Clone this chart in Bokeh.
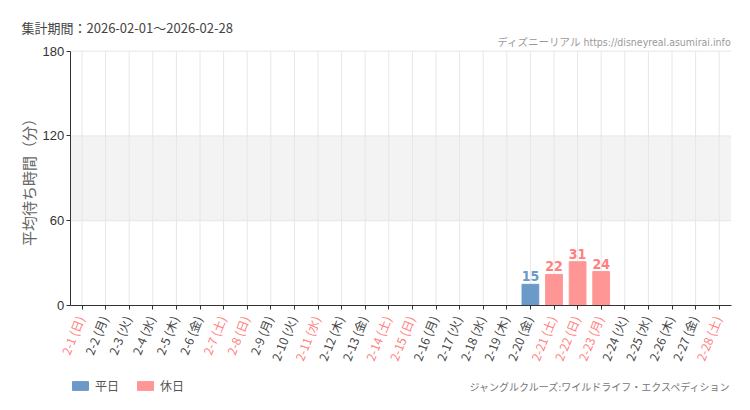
import math
from bokeh.plotting import figure
from bokeh.models import (ColumnDataSource, LabelSet, Label, BoxAnnotation, Legend, LegendItem,
                          FixedTicker, Range1d, LinearAxis)
from bokeh.core.properties import value
from bokeh.embed import file_html
from bokeh.resources import INLINE

# ---------------- data ----------------
dates = ["2-%d" % d for d in range(1, 29)]
weekdays = ["日", "月", "火", "水", "木", "金", "土"] * 4
holiday_dates = ["2-1", "2-7", "2-8", "2-11", "2-14", "2-15", "2-21", "2-22", "2-23", "2-28"]

bar_dates = ["2-20", "2-21", "2-22", "2-23"]
bar_values = [15, 22, 31, 24]

y_ticks = [0, 60, 120, 180]
band = (60, 120)

header = "集計期間：2026-02-01～2026-02-28"
credit = "ディズニーリアル https://disneyreal.asumirai.info"
attraction = "ジャングルクルーズ:ワイルドライフ・エクスペディション"
y_title = "平均待ち時間（分）"
legend_labels = ["平日", "休日"]

# ---------------- style ----------------
BLUE = "#6b9ac8"
PINK = "#ff9696"
PINK_TXT = "#ff8080"
DARK = "#333333"
GRID = "#e6e6e6"
JP = "Noto Sans CJK JP"
COND = "DejaVu Sans Condensed"

W, H = 750, 410
# plot-area geometry (pixels, from top-left of canvas)
PX_LEFT0 = 81.5       # centre of first category
PX_STEP = 23.6        # category spacing
PY_ZERO = 305.0       # y=0
PY_TOP = 50.7         # y=180

positions = list(range(1, len(dates) + 1))
pos_of = dict(zip(dates, positions))

ky = (PY_ZERO - PY_TOP) / (y_ticks[-1] - y_ticks[0])
y_start = -(H - PY_ZERO) / ky
y_end = y_start + H / ky
x_start = positions[0] - PX_LEFT0 / PX_STEP
x_end = x_start + W / PX_STEP
x_lo, x_hi = positions[0] - 0.5, positions[-1] + 0.5

p = figure(width=W, height=H, x_range=Range1d(x_start, x_end), y_range=Range1d(y_start, y_end),
           output_backend="svg", toolbar_location=None, x_axis_location=None, y_axis_location=None,
           min_border=0, background_fill_color="#ffffff", border_fill_color="#ffffff")
p.outline_line_color = None
p.grid.visible = False

# band
p.add_layout(BoxAnnotation(left=x_lo, right=x_hi, bottom=band[0], top=band[1],
                           fill_color="#f3f3f3", fill_alpha=1.0, line_color=None, level="underlay"))
# grid lines
p.segment(x0=positions, y0=[y_ticks[0]] * len(positions), x1=positions, y1=[y_ticks[-1]] * len(positions),
          line_color=GRID, line_width=1)
gy = y_ticks[1:]
p.segment(x0=[x_lo] * len(gy), y0=gy, x1=[x_hi] * len(gy), y1=gy, line_color=GRID, line_width=1)

# bars
wk = [(pos_of[d], v) for d, v in zip(bar_dates, bar_values) if d not in holiday_dates]
hd = [(pos_of[d], v) for d, v in zip(bar_dates, bar_values) if d in holiday_dates]
src_wk = ColumnDataSource(dict(x=[a for a, b in wk], top=[b for a, b in wk], t=[str(b) for a, b in wk]))
src_hd = ColumnDataSource(dict(x=[a for a, b in hd], top=[b for a, b in hd], t=[str(b) for a, b in hd]))

r1 = p.vbar(x="x", top="top", width=0.71, source=src_wk, fill_color=BLUE, line_color=BLUE)
r2 = p.vbar(x="x", top="top", width=0.71, source=src_hd, fill_color=PINK, line_color=PINK)

for src, col in ((src_wk, BLUE), (src_hd, PINK_TXT)):
    p.add_layout(LabelSet(x="x", y="top", text="t", source=src, text_align="center",
                          text_baseline="alphabetic", y_offset=3, text_color=col,
                          text_font=value(COND), text_font_size="14px", text_font_style="bold"))

# axes
yaxis = LinearAxis(fixed_location=x_lo, bounds=(y_ticks[0], y_ticks[-1]),
                   ticker=FixedTicker(ticks=y_ticks))
yaxis.axis_label = y_title
yaxis.axis_label_text_font = JP
yaxis.axis_label_text_font_style = "normal"
yaxis.axis_label_text_font_size = "15px"
yaxis.axis_label_text_color = "#666666"
yaxis.axis_label_standoff = 1
yaxis.major_label_text_font = "Liberation Sans"
yaxis.major_label_text_font_size = "13px"
yaxis.major_label_text_color = DARK
yaxis.major_label_standoff = 2
yaxis.axis_line_color = DARK
yaxis.major_tick_line_color = DARK
yaxis.major_tick_out = 4
yaxis.major_tick_in = 0
yaxis.minor_tick_line_color = None
p.add_layout(yaxis, "left")

xaxis = LinearAxis(fixed_location=y_ticks[0], bounds=(x_lo, x_hi), ticker=FixedTicker(ticks=positions))
xaxis.axis_line_color = DARK
xaxis.major_tick_line_color = DARK
xaxis.major_tick_out = 4
xaxis.major_tick_in = 0
xaxis.minor_tick_line_color = None
xaxis.major_label_text_alpha = 0
xaxis.major_label_text_font_size = "1px"
p.add_layout(xaxis, "below")

# rotated x labels (coloured per day type)
lab_text = ["%s (%s)" % (d, w) for d, w in zip(dates, weekdays)]
lab_col = [PINK_TXT if d in holiday_dates else "#444444" for d in dates]
lsrc = ColumnDataSource(dict(x=positions, y=[y_ticks[0]] * len(dates), t=lab_text, c=lab_col))
p.add_layout(LabelSet(x="x", y="y", text="t", source=lsrc, text_color="c", angle=math.radians(68),
                      text_align="right", text_baseline="middle", y_offset=-11, x_offset=-2,
                      text_font=value(JP), text_font_size="12px"))

# texts
p.add_layout(Label(x=21, y=H - 27, x_units="screen", y_units="screen", text=header,
                   text_font=JP, text_font_size="13px", text_color="#444444", text_baseline="middle"))
p.add_layout(Label(x=731, y=H - 41, x_units="screen", y_units="screen", text=credit, text_align="right",
                   text_font=COND + ", " + JP, text_font_size="10.5px", text_color="#9a9a9a",
                   text_baseline="middle"))
p.add_layout(Label(x=732, y=H - 387, x_units="screen", y_units="screen", text=attraction, text_align="right",
                   text_font=COND + ", " + JP, text_font_size="10px", text_color="#777777",
                   text_baseline="middle"))

legend = Legend(items=[LegendItem(label=legend_labels[0], renderers=[r1]),
                       LegendItem(label=legend_labels[1], renderers=[r2])],
                orientation="horizontal", location=(70, 16), glyph_width=20, glyph_height=11,
                label_text_font=JP, label_text_font_size="12px", label_text_color="#555555",
                background_fill_alpha=0, border_line_color=None, spacing=16, padding=0, margin=0,
                label_standoff=5, label_height=12)
p.add_layout(legend)

open("out.html", "w").write(file_html(p, INLINE))
